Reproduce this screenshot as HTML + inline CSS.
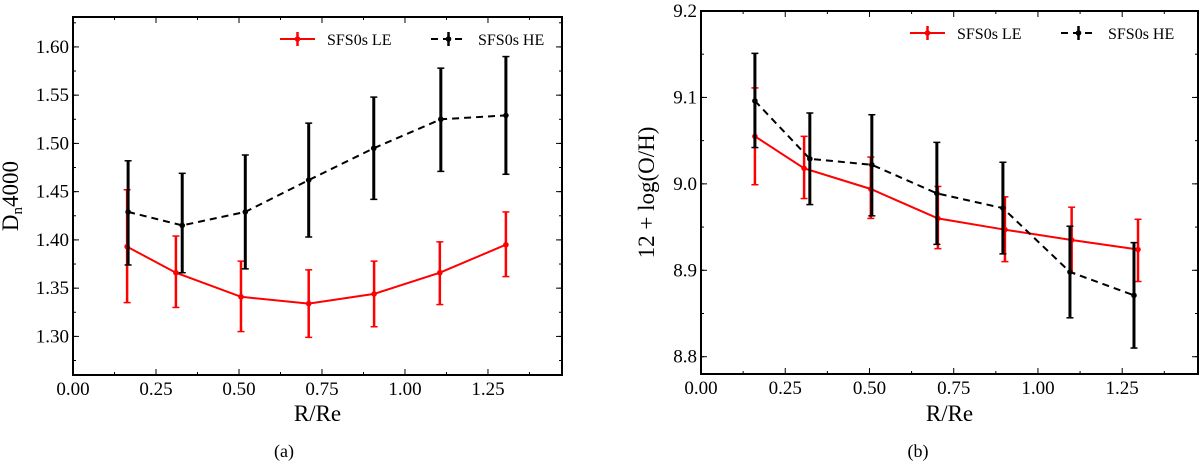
<!DOCTYPE html>
<html><head><meta charset="utf-8">
<style>
body{margin:0;background:#fff;}
svg text{font-family:"Liberation Serif","DejaVu Serif",serif;fill:#000;}
</style></head>
<body>
<svg id="fig" width="1200" height="461" viewBox="0 0 1200 461" xmlns="http://www.w3.org/2000/svg"></svg>
<script>
// Panel (a) data
const aLeX = [0.163, 0.31, 0.506, 0.71, 0.907, 1.105, 1.304];
const aLeY = [1.393, 1.366, 1.341, 1.334, 1.344, 1.366, 1.395];
const aLeHi = [1.452, 1.404, 1.378, 1.369, 1.378, 1.398, 1.429];
const aLeLo = [1.335, 1.330, 1.305, 1.299, 1.310, 1.333, 1.362];
const aHeX = [0.166, 0.329, 0.519, 0.71, 0.906, 1.108, 1.304];
const aHeY = [1.429, 1.415, 1.429, 1.462, 1.495, 1.525, 1.529];
const aHeHi = [1.482, 1.469, 1.488, 1.521, 1.548, 1.578, 1.590];
const aHeLo = [1.374, 1.366, 1.370, 1.403, 1.442, 1.471, 1.468];
const aYTicks = [1.30, 1.35, 1.40, 1.45, 1.50, 1.55, 1.60];
const aYLabels = ["1.30","1.35","1.40","1.45","1.50","1.55","1.60"];
// Panel (b) data
const bLeX = [0.16, 0.306, 0.504, 0.703, 0.902, 1.10, 1.297];
const bLeY = [9.055, 9.018, 8.994, 8.960, 8.947, 8.935, 8.924];
const bLeHi = [9.111, 9.055, 9.031, 8.997, 8.985, 8.973, 8.959];
const bLeLo = [8.999, 8.983, 8.960, 8.925, 8.910, 8.897, 8.887];
const bHeX = [0.16, 0.323, 0.507, 0.70, 0.896, 1.095, 1.285];
const bHeY = [9.096, 9.029, 9.022, 8.989, 8.972, 8.898, 8.871];
const bHeHi = [9.151, 9.082, 9.080, 9.048, 9.025, 8.951, 8.932];
const bHeLo = [9.042, 8.976, 8.963, 8.930, 8.919, 8.845, 8.810];
const bYTicks = [8.8, 8.9, 9.0, 9.1, 9.2];
const bYLabels = ["8.8","8.9","9.0","9.1","9.2"];
const xTicks = [0, 0.25, 0.5, 0.75, 1.0, 1.25];
const xLabels = ["0.00","0.25","0.50","0.75","1.00","1.25"];

const NS = "http://www.w3.org/2000/svg";
const svg = document.getElementById('fig');
function mk(tag, attrs, parent){
  const e = document.createElementNS(NS, tag);
  for (const k in attrs) e.setAttribute(k, attrs[k]);
  (parent||svg).appendChild(e);
  return e;
}

function panel(cfg){
  const g = mk('g', {});
  
  
  const L=cfg.L, R=cfg.R, T=cfg.T, B=cfg.B;
  const sx = v => L + (v - cfg.x0) / (cfg.x1 - cfg.x0) * (R - L);
  const sy = v => B - (v - cfg.y0) / (cfg.y1 - cfg.y0) * (B - T);
  xTicks.forEach((t,i)=>{
    const x = sx(t);
    const tk = mk('line',{x1:x,x2:x,y1:B,y2:B-6,stroke:'#000','stroke-width':1},g);
    
    
    mk('line',{x1:x,x2:x,y1:T,y2:T+6,stroke:'#000','stroke-width':1},g);
    const lb = mk('text',{x:x,y:B+20,'text-anchor':'middle','font-size':19},g);
    lb.textContent = xLabels[i];
    
    
  });
  for (let v=cfg.x0+0.125; v<cfg.x1; v+=0.25){
    const x=sx(v);
    mk('line',{x1:x,x2:x,y1:B,y2:B-3,stroke:'#000','stroke-width':1},g);
    mk('line',{x1:x,x2:x,y1:T,y2:T+3,stroke:'#000','stroke-width':1},g);
  }
  cfg.yt.forEach((t,i)=>{
    const y = sy(t);
    const tk = mk('line',{x1:L,x2:L+6,y1:y,y2:y,stroke:'#000','stroke-width':1},g);
    
    
    mk('line',{x1:R,x2:R-6,y1:y,y2:y,stroke:'#000','stroke-width':1},g);
    const lb = mk('text',{x:L-4,y:y+6,'text-anchor':'end','font-size':19},g);
    lb.textContent = cfg.yl[i];
    
    
  });
  const step = cfg.yt[1]-cfg.yt[0];
  for (let v=cfg.yt[0]-step/2; v<cfg.y1; v+=step/2){
    if (v<=cfg.y0) continue;
    const y=sy(v);
    mk('line',{x1:L,x2:L+3,y1:y,y2:y,stroke:'#000','stroke-width':1},g);
    mk('line',{x1:R,x2:R-3,y1:y,y2:y,stroke:'#000','stroke-width':1},g);
  }
  function series(X,Y,Hi,Lo,color,dash,ew,nm){
    const sg = mk('g',{},g);
    
    
    const pts = X.map((x,i)=>sx(x).toFixed(1)+','+sy(Y[i]).toFixed(1)).join(' ');
    const pl = mk('polyline',{points:pts,fill:'none',stroke:color,'stroke-width':2,'stroke-dasharray':dash},sg);
    
    
    X.forEach((x,i)=>{
      const px=sx(x), y1=sy(Hi[i]), y2=sy(Lo[i]);
      const eb = mk('line',{x1:px,x2:px,y1:y1,y2:y2,stroke:color,'stroke-width':ew},sg);
      
      
      mk('line',{x1:px-3.5,x2:px+3.5,y1:y1,y2:y1,stroke:color,'stroke-width':1.5},sg);
      mk('line',{x1:px-3.5,x2:px+3.5,y1:y2,y2:y2,stroke:color,'stroke-width':1.5},sg);
      const m = mk('circle',{cx:px,cy:sy(Y[i]),r:2.8,fill:color},sg);
      
      
    });
  }
  series(cfg.leX,cfg.leY,cfg.leHi,cfg.leLo,'#f00','',2.5,'series-le');
  series(cfg.heX,cfg.heY,cfg.heHi,cfg.heLo,'#000','7,5',3,'series-he');
  const fr = mk('rect',{x:L,y:T,width:R-L,height:B-T,fill:'none',stroke:'#000','stroke-width':2},g);
  
  
  const lg = mk('g',{},g);
  
  
  const ly = cfg.legY;
  mk('line',{x1:cfg.legX,x2:cfg.legX+35,y1:ly,y2:ly,stroke:'#f00','stroke-width':2},lg);
  mk('line',{x1:cfg.legX+17.5,x2:cfg.legX+17.5,y1:ly-7,y2:ly+7,stroke:'#f00','stroke-width':2.5},lg);
  mk('circle',{cx:cfg.legX+17.5,cy:ly,r:2.8,fill:'#f00'},lg);
  const t1 = mk('text',{x:cfg.legX+47,y:ly+6,'font-size':16},lg);
  t1.textContent='SFS0s LE';
  
  
  const hx = cfg.legX+151;
  mk('line',{x1:hx,x2:hx+35,y1:ly,y2:ly,stroke:'#000','stroke-width':2,'stroke-dasharray':'7,5'},lg);
  mk('line',{x1:hx+17.5,x2:hx+17.5,y1:ly-7,y2:ly+7,stroke:'#000','stroke-width':2.5},lg);
  mk('circle',{cx:hx+17.5,cy:ly,r:2.8,fill:'#000'},lg);
  const t2 = mk('text',{x:hx+47,y:ly+6,'font-size':16},lg);
  t2.textContent='SFS0s HE';
  
  
  const xt = mk('text',{x:(L+R)/2,y:421,'text-anchor':'middle','font-size':23},g);
  xt.textContent='R/Re';
  
  
  const cap = mk('text',{x:cfg.capX,y:457,'text-anchor':'middle','font-size':18},g);
  cap.textContent=cfg.cap;
  
  
  const yt = mk('text',{x:0,y:0,'text-anchor':'middle','font-size':23,transform:`translate(${cfg.ylX},${(T+B)/2}) rotate(-90)`},g);
  
  
  if (cfg.ylabel==='dn'){
    yt.innerHTML = 'D<tspan font-size="15" dy="4">n</tspan><tspan dy="-4">4000</tspan>';
  } else yt.textContent = cfg.ylabel;
}

panel({name:'panel-a-dn4000',L:73,R:562,T:17,B:375,x0:0,x1:1.473,y0:1.26,y1:1.631,
  yt:aYTicks,yl:aYLabels,leX:aLeX,leY:aLeY,leHi:aLeHi,leLo:aLeLo,heX:aHeX,heY:aHeY,heHi:aHeHi,heLo:aHeLo,
  legX:280,legY:39,capX:284,cap:'(a)',ylX:18,ylabel:'dn'});
panel({name:'panel-b-metallicity',L:701,R:1198,T:11,B:374,x0:0,x1:1.475,y0:8.78,y1:9.2,
  yt:bYTicks,yl:bYLabels,leX:bLeX,leY:bLeY,leHi:bLeHi,leLo:bLeLo,heX:bHeX,heY:bHeY,heHi:bHeHi,heLo:bHeLo,
  legX:910,legY:33,capX:918,cap:'(b)',ylX:654,ylabel:'12 + log(O/H)'});
</script>
</body></html>
